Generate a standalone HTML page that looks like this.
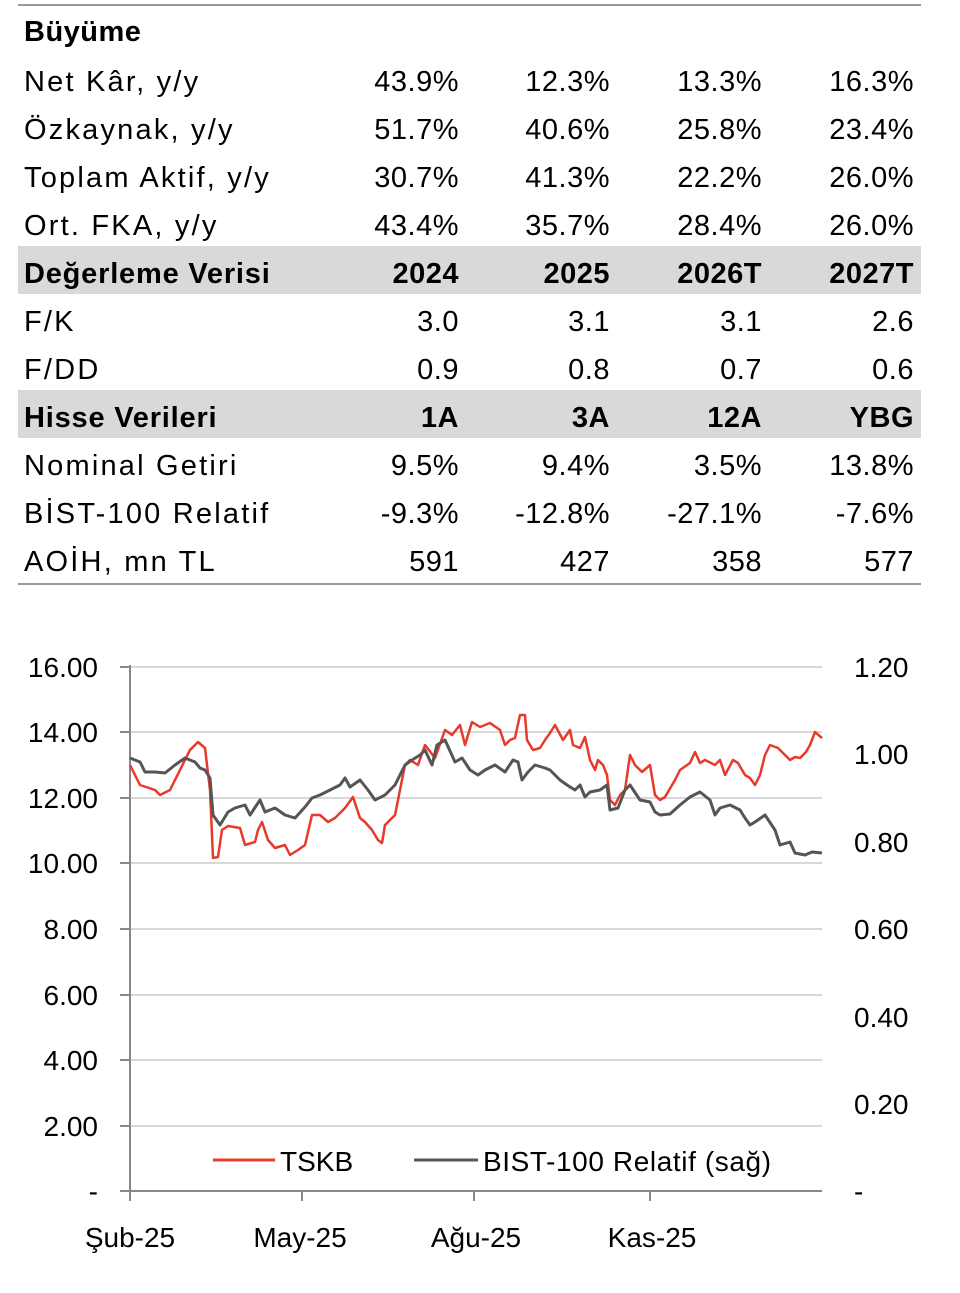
<!DOCTYPE html>
<html><head><meta charset="utf-8"><style>
body{margin:0;width:960px;height:1293px;background:#fff;font-family:"Liberation Sans",sans-serif;color:#000;position:relative;overflow:hidden}
.t{position:absolute;left:18px;width:903px;top:4px;border-top:2px solid #999}
.r{position:relative;height:48px;font-size:29px;letter-spacing:0.5px}
.r.g{background:#d9d9d9;font-weight:bold}
.r span{position:absolute;top:12px;white-space:nowrap}
.l{left:6px;letter-spacing:2.2px}
.g .l{letter-spacing:0.8px}
.c1{right:462px}.c2{right:311px}.c3{right:159px}.c4{right:7px}
.bot{border-bottom:2px solid #999;height:49px}
</style></head><body>
<div class="t">
<div class="r" style="font-weight:bold"><span class="l" style="letter-spacing:0.5px;top:10px">Büyüme</span></div>
<div class="r"><span class="l">Net Kâr, y/y</span><span class="c1">43.9%</span><span class="c2">12.3%</span><span class="c3">13.3%</span><span class="c4">16.3%</span></div>
<div class="r"><span class="l">Özkaynak, y/y</span><span class="c1">51.7%</span><span class="c2">40.6%</span><span class="c3">25.8%</span><span class="c4">23.4%</span></div>
<div class="r"><span class="l">Toplam Aktif, y/y</span><span class="c1">30.7%</span><span class="c2">41.3%</span><span class="c3">22.2%</span><span class="c4">26.0%</span></div>
<div class="r"><span class="l">Ort. FKA, y/y</span><span class="c1">43.4%</span><span class="c2">35.7%</span><span class="c3">28.4%</span><span class="c4">26.0%</span></div>
<div class="r g"><span class="l">Değerleme Verisi</span><span class="c1">2024</span><span class="c2">2025</span><span class="c3">2026T</span><span class="c4">2027T</span></div>
<div class="r"><span class="l">F/K</span><span class="c1">3.0</span><span class="c2">3.1</span><span class="c3">3.1</span><span class="c4">2.6</span></div>
<div class="r"><span class="l">F/DD</span><span class="c1">0.9</span><span class="c2">0.8</span><span class="c3">0.7</span><span class="c4">0.6</span></div>
<div class="r g"><span class="l">Hisse Verileri</span><span class="c1">1A</span><span class="c2">3A</span><span class="c3">12A</span><span class="c4">YBG</span></div>
<div class="r"><span class="l">Nominal Getiri</span><span class="c1">9.5%</span><span class="c2">9.4%</span><span class="c3">3.5%</span><span class="c4">13.8%</span></div>
<div class="r"><span class="l">BİST-100 Relatif</span><span class="c1">-9.3%</span><span class="c2">-12.8%</span><span class="c3">-27.1%</span><span class="c4">-7.6%</span></div>
<div class="r bot"><span class="l">AOİH, mn TL</span><span class="c1">591</span><span class="c2">427</span><span class="c3">358</span><span class="c4">577</span></div>
</div>
<svg width="960" height="1293" style="position:absolute;left:0;top:0" font-family="Liberation Sans, sans-serif" font-size="28">
<g stroke="#d9d9d9" stroke-width="2">
<line x1="130" x2="822" y1="667" y2="667"/><line x1="130" x2="822" y1="732" y2="732"/><line x1="130" x2="822" y1="798" y2="798"/><line x1="130" x2="822" y1="863" y2="863"/><line x1="130" x2="822" y1="929" y2="929"/><line x1="130" x2="822" y1="995" y2="995"/><line x1="130" x2="822" y1="1060" y2="1060"/><line x1="130" x2="822" y1="1126" y2="1126"/>
</g>
<g stroke="#888" stroke-width="2">
<line x1="130" x2="130" y1="665" y2="1192"/><line x1="130" x2="822" y1="1191" y2="1191"/>
<line x1="120" x2="130" y1="667" y2="667"/><line x1="120" x2="130" y1="732" y2="732"/><line x1="120" x2="130" y1="798" y2="798"/><line x1="120" x2="130" y1="863" y2="863"/><line x1="120" x2="130" y1="929" y2="929"/><line x1="120" x2="130" y1="995" y2="995"/><line x1="120" x2="130" y1="1060" y2="1060"/><line x1="120" x2="130" y1="1126" y2="1126"/><line x1="120" x2="130" y1="1191" y2="1191"/>
<line x1="130" x2="130" y1="1191" y2="1201"/><line x1="302" x2="302" y1="1191" y2="1201"/><line x1="474" x2="474" y1="1191" y2="1201"/><line x1="650" x2="650" y1="1191" y2="1201"/>
</g>
<g text-anchor="end">
<text x="98" y="677">16.00</text><text x="98" y="742">14.00</text><text x="98" y="808">12.00</text><text x="98" y="873">10.00</text><text x="98" y="939">8.00</text><text x="98" y="1005">6.00</text><text x="98" y="1070">4.00</text><text x="98" y="1136">2.00</text><text x="98" y="1201">-</text>
</g>
<g>
<text x="854" y="677">1.20</text><text x="854" y="764">1.00</text><text x="854" y="852">0.80</text><text x="854" y="939">0.60</text><text x="854" y="1027">0.40</text><text x="854" y="1114">0.20</text><text x="854" y="1201">-</text>
</g>
<g text-anchor="middle">
<text x="130" y="1247">Şub-25</text><text x="300" y="1247">May-25</text><text x="476" y="1247">Ağu-25</text><text x="652" y="1247">Kas-25</text>
</g>
<polyline fill="none" stroke="#e8392a" stroke-width="2.5" stroke-linejoin="round" points="130,765 140,785 155,790 160,795 170,790 180,770 190,750 198,742 205,748 210,790 213,858 218,857 222,830 228,826 240,828 245,845 255,842 258,830 262,822 268,840 275,848 285,845 290,855 298,850 305,845 312,815 320,815 328,822 335,818 345,808 353,797 360,818 365,822 372,830 378,840 382,843 385,825 395,815 405,765 410,760 418,765 425,745 435,758 445,730 452,735 460,725 465,745 472,722 480,727 490,723 500,730 505,745 510,740 515,738 520,715 525,715 527,740 533,750 540,748 545,740 550,733 555,725 563,740 570,730 573,745 580,748 585,737 590,760 595,770 598,760 603,765 607,775 610,800 615,805 620,795 625,790 630,755 635,765 642,772 650,765 655,795 660,800 665,797 675,780 680,770 690,763 695,752 700,763 705,760 715,765 720,760 725,775 733,760 738,763 745,775 750,778 755,785 760,775 765,755 770,745 778,748 785,755 790,760 795,757 800,758 806,752 810,745 815,732 822,738"/>
<polyline fill="none" stroke="#555" stroke-width="3" stroke-linejoin="round" points="130,758 140,762 145,772 155,772 165,773 175,765 185,758 195,762 200,768 205,770 210,778 213,815 220,825 228,812 235,808 245,805 250,815 260,800 265,812 275,808 285,815 295,818 305,807 312,798 320,795 330,790 340,785 345,778 350,787 360,780 368,790 375,800 385,795 395,785 405,765 412,760 420,755 425,750 432,765 437,745 445,740 455,762 462,758 470,770 478,775 485,770 495,765 505,772 513,760 518,762 522,780 528,772 535,765 545,768 550,770 560,780 567,785 575,790 580,785 585,797 590,792 600,790 607,785 610,810 618,808 625,790 630,785 640,800 650,802 655,812 660,815 670,814 680,805 690,797 700,792 710,800 715,815 720,808 730,805 740,810 745,818 750,825 755,822 765,815 775,830 780,845 790,842 795,853 805,855 812,852 822,853"/>
<line x1="213" x2="275" y1="1160" y2="1160" stroke="#e8392a" stroke-width="3"/>
<text x="280" y="1171">TSKB</text>
<line x1="414" x2="478" y1="1160" y2="1160" stroke="#555" stroke-width="3"/>
<text x="483" y="1171" letter-spacing="0.6">BIST-100 Relatif (sağ)</text>
</svg>
</body></html>
